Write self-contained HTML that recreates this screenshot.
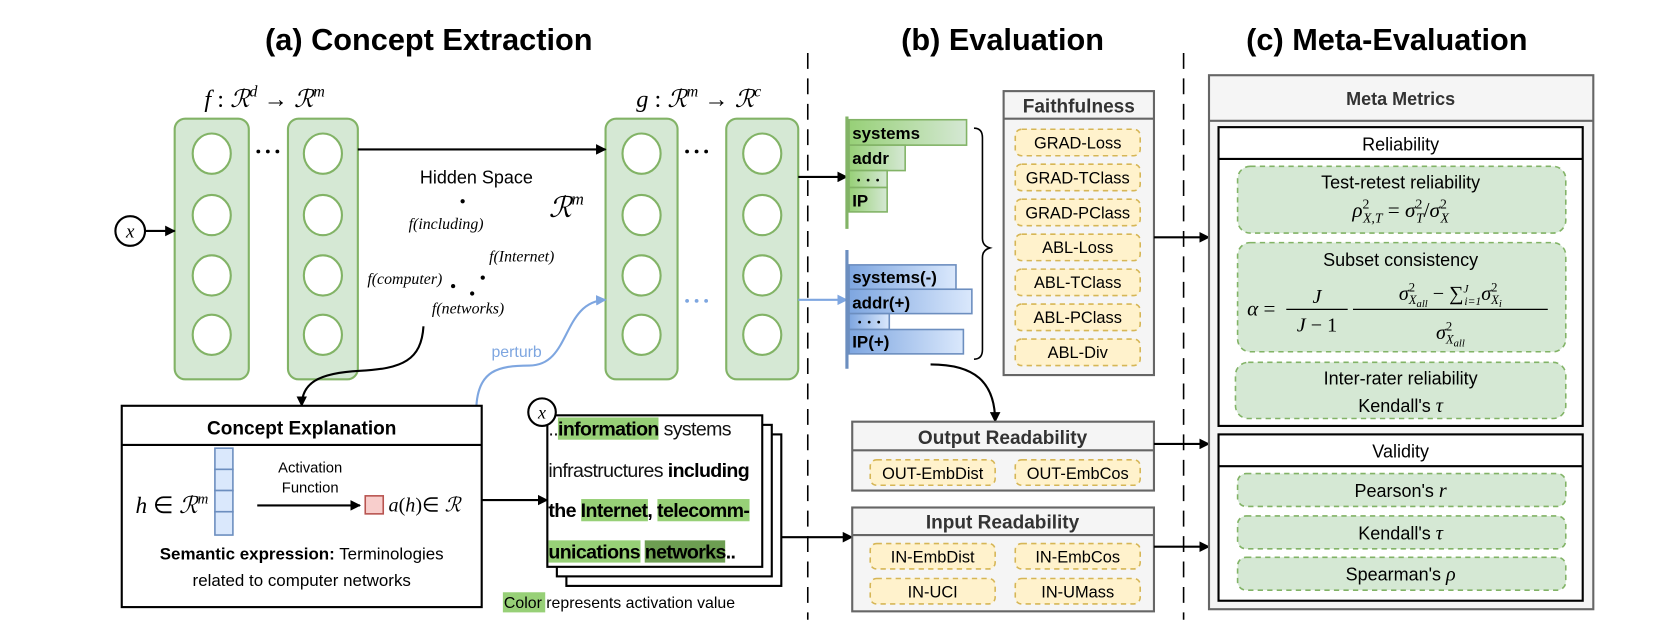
<!DOCTYPE html>
<html><head><meta charset="utf-8"><style>
html,body{margin:0;padding:0;background:#fff;}
svg{display:block;}
.t{font-family:"Liberation Sans",sans-serif;}
.m{font-family:"Liberation Serif",serif;font-style:italic;}
.doc{font-family:"Liberation Sans",sans-serif;font-size:18.5px;letter-spacing:-0.6px;color:#111;line-height:38.5px;white-space:nowrap;}
.doc b{font-weight:bold;color:#000;}
.hg{background:#97d077;}
.hd{background:#6d9e52;}
</style></head><body>
<svg width="1660" height="641" viewBox="0 0 1568 605" preserveAspectRatio="none" xmlns="http://www.w3.org/2000/svg">
<defs>
<marker id="ah" markerWidth="10" markerHeight="10" refX="9" refY="5" orient="auto" markerUnits="userSpaceOnUse"><path d="M0,0 L10,5 L0,10 z" fill="#000"/></marker>
<marker id="ahb" markerWidth="10" markerHeight="10" refX="9" refY="5" orient="auto" markerUnits="userSpaceOnUse"><path d="M0,0 L10,5 L0,10 z" fill="#7ea6e0"/></marker>
<linearGradient id="gg" x1="0" x2="1" y1="0" y2="0"><stop offset="0" stop-color="#97d077"/><stop offset="1" stop-color="#d5e8d4"/></linearGradient>
<linearGradient id="gb" x1="0" x2="1" y1="0" y2="0"><stop offset="0" stop-color="#7ea6e0"/><stop offset="1" stop-color="#dae8fc"/></linearGradient>
</defs>

<!-- titles -->
<g class="t" font-weight="bold" font-size="29" text-anchor="middle">
<text x="405" y="47">(a) Concept Extraction</text>
<text x="947" y="47">(b) Evaluation</text>
<text x="1310" y="47">(c) Meta-Evaluation</text>
</g>
<line x1="763" y1="50" x2="763" y2="585" stroke="#000" stroke-width="1.5" stroke-dasharray="15 9"/>
<line x1="1118" y1="50" x2="1118" y2="585" stroke="#000" stroke-width="1.5" stroke-dasharray="15 9"/>

<!-- network -->
<text class="m" x="250" y="101" font-size="23" text-anchor="middle">f <tspan font-style="normal">:</tspan> ℛ<tspan font-size="15" dy="-10">d</tspan><tspan dy="10" font-style="normal"> → </tspan>ℛ<tspan font-size="15" dy="-10">m</tspan></text>
<text class="m" x="660" y="101" font-size="23" text-anchor="middle">g <tspan font-style="normal">:</tspan> ℛ<tspan font-size="15" dy="-10">m</tspan><tspan dy="10" font-style="normal"> → </tspan>ℛ<tspan font-size="15" dy="-10">c</tspan></text>
<g fill="#d5e8d4" stroke="#82b366" stroke-width="2">
<rect x="165" y="112" width="70" height="246" rx="10"/>
<rect x="272" y="112" width="66" height="246" rx="10"/>
<rect x="572" y="112" width="68" height="246" rx="10"/>
<rect x="686" y="112" width="68" height="246" rx="10"/>
</g>
<g fill="#fff" stroke="#82b366" stroke-width="2">
<ellipse cx="200" cy="145" rx="18" ry="19"/><ellipse cx="200" cy="203" rx="18" ry="19"/><ellipse cx="200" cy="260" rx="18" ry="19"/><ellipse cx="200" cy="316" rx="18" ry="19"/>
<ellipse cx="305" cy="145" rx="18" ry="19"/><ellipse cx="305" cy="203" rx="18" ry="19"/><ellipse cx="305" cy="260" rx="18" ry="19"/><ellipse cx="305" cy="316" rx="18" ry="19"/>
<ellipse cx="606" cy="145" rx="18" ry="19"/><ellipse cx="606" cy="203" rx="18" ry="19"/><ellipse cx="606" cy="260" rx="18" ry="19"/><ellipse cx="606" cy="316" rx="18" ry="19"/>
<ellipse cx="720" cy="145" rx="18" ry="19"/><ellipse cx="720" cy="203" rx="18" ry="19"/><ellipse cx="720" cy="260" rx="18" ry="19"/><ellipse cx="720" cy="316" rx="18" ry="19"/>
</g>
<g fill="#000"><circle cx="244" cy="143" r="1.8"/><circle cx="253" cy="143" r="1.8"/><circle cx="262" cy="143" r="1.8"/>
<circle cx="649" cy="143" r="1.8"/><circle cx="658" cy="143" r="1.8"/><circle cx="667" cy="143" r="1.8"/></g>
<g fill="#7ea6e0"><circle cx="649" cy="284" r="1.8"/><circle cx="658" cy="284" r="1.8"/><circle cx="667" cy="284" r="1.8"/></g>
<circle cx="123" cy="218" r="14" fill="#fff" stroke="#000" stroke-width="2"/>
<text class="m" x="123" y="224" font-size="18" font-style="normal" text-anchor="middle">x</text>
<line x1="137" y1="218" x2="165" y2="218" stroke="#000" stroke-width="2" marker-end="url(#ah)"/>
<line x1="338" y1="141" x2="572" y2="141" stroke="#000" stroke-width="2" marker-end="url(#ah)"/>
<text class="t" x="450" y="173" font-size="17" text-anchor="middle">Hidden Space</text>
<text class="m" x="535" y="205" font-size="27" text-anchor="middle">ℛ<tspan font-size="16" dy="-12">m</tspan></text>
<g fill="#000"><circle cx="437" cy="190" r="2"/><circle cx="428" cy="270" r="2"/><circle cx="446" cy="277" r="2"/><circle cx="456" cy="262" r="2"/></g>
<g class="m" font-size="15" font-style="normal">
<text x="386" y="216"><tspan font-style="italic">f</tspan>(including)</text>
<text x="462" y="247"><tspan font-style="italic">f</tspan>(Internet)</text>
<text x="347" y="268"><tspan font-style="italic">f</tspan>(computer)</text>
<text x="408" y="296"><tspan font-style="italic">f</tspan>(networks)</text>
</g>
<path d="M400,308 C398,340 380,348 340,350 C300,352 285,362 285,383" fill="none" stroke="#000" stroke-width="2" marker-end="url(#ah)"/>
<path d="M450,383 C452,350 470,345 500,345 C540,345 530,285 572,283" fill="none" stroke="#7ea6e0" stroke-width="2" marker-end="url(#ahb)"/>
<text class="t" x="488" y="337" font-size="15" fill="#7ea6e0" text-anchor="middle">perturb</text>

<!-- concept explanation -->
<rect x="115" y="383" width="340" height="190" fill="#fff" stroke="#000" stroke-width="2"/>
<line x1="115" y1="420" x2="455" y2="420" stroke="#000" stroke-width="2"/>
<text class="t" x="285" y="410" font-size="18" font-weight="bold" text-anchor="middle">Concept Explanation</text>
<text class="m" x="128" y="484" font-size="22">h<tspan font-style="normal"> ∈ </tspan>ℛ<tspan font-size="14" dy="-9">m</tspan></text>
<g fill="#dae8fc" stroke="#6c8ebf" stroke-width="1.5">
<rect x="203" y="423" width="17" height="20"/><rect x="203" y="443" width="17" height="20"/><rect x="203" y="463" width="17" height="20"/><rect x="203" y="483" width="17" height="22"/>
</g>
<text class="t" x="293" y="446" font-size="14" text-anchor="middle">Activation</text>
<text class="t" x="293" y="465" font-size="14" text-anchor="middle">Function</text>
<line x1="243" y1="477" x2="340" y2="477" stroke="#000" stroke-width="2" marker-end="url(#ah)"/>
<rect x="345" y="468" width="17" height="17" fill="#f8cecc" stroke="#b85450" stroke-width="1.5"/>
<text class="m" x="367" y="483" font-size="19">a<tspan font-style="normal">(</tspan>h<tspan font-style="normal">)∈ </tspan>ℛ</text>
<text class="t" x="285" y="528" font-size="16" text-anchor="middle"><tspan font-weight="bold">Semantic expression:</tspan> Terminologies</text>
<text class="t" x="285" y="553" font-size="16" text-anchor="middle">related to computer networks</text>
<line x1="455" y1="472" x2="517" y2="472" stroke="#000" stroke-width="2" marker-end="url(#ah)"/>

<!-- doc stack -->
<rect x="535" y="410" width="203" height="143" fill="#fff" stroke="#000" stroke-width="2"/>
<rect x="526" y="401" width="203" height="143" fill="#fff" stroke="#000" stroke-width="2"/>
<rect x="517" y="392" width="203" height="143" fill="#fff" stroke="#000" stroke-width="2"/>
<foreignObject x="518" y="386" width="215" height="160"><div xmlns="http://www.w3.org/1999/xhtml" class="doc">..<b class="hg">information</b> systems<br/>infrastructures <b>including</b><br/><b>the <span class="hg">Internet</span>, <span class="hg">telecomm-</span></b><br/><b><span class="hg">unications</span> <span class="hd">networks</span>..</b></div></foreignObject>
<circle cx="512" cy="389" r="13" fill="#fff" stroke="#000" stroke-width="2"/>
<text class="m" x="512" y="395" font-size="17" font-style="normal" text-anchor="middle">x</text>
<rect x="475" y="559" width="40" height="19" fill="#97d077"/>
<text class="t" x="476" y="574" font-size="15">Color represents activation value</text>
<line x1="738" y1="507" x2="805" y2="507" stroke="#000" stroke-width="2" marker-end="url(#ah)"/>

<!-- evaluation bars -->
<line x1="754" y1="167" x2="800" y2="167" stroke="#000" stroke-width="2" marker-end="url(#ah)"/>
<line x1="754" y1="283" x2="800" y2="283" stroke="#7ea6e0" stroke-width="2" marker-end="url(#ahb)"/>
<g stroke="#82b366" stroke-width="1.5" fill="url(#gg)">
<rect x="802" y="113" width="111" height="24"/><rect x="802" y="137" width="53" height="24"/><rect x="802" y="161" width="36" height="16"/><rect x="802" y="177" width="36" height="23"/>
</g>
<line x1="800" y1="110" x2="800" y2="216" stroke="#82b366" stroke-width="3"/>
<g stroke="#6c8ebf" stroke-width="1.5" fill="url(#gb)">
<rect x="802" y="250" width="101" height="23"/><rect x="802" y="273" width="116" height="23"/><rect x="802" y="296" width="38" height="15"/><rect x="802" y="311" width="108" height="23"/>
</g>
<line x1="800" y1="236" x2="800" y2="348" stroke="#6c8ebf" stroke-width="3"/>
<g class="t" font-weight="bold" font-size="16">
<text x="805" y="131">systems</text><text x="805" y="155">addr</text><text x="805" y="195">IP</text>
<text x="805" y="267">systems(-)</text><text x="805" y="291">addr(+)</text><text x="805" y="328">IP(+)</text>
</g>
<g fill="#000"><circle cx="811" cy="170" r="1.3"/><circle cx="820" cy="170" r="1.3"/><circle cx="829" cy="170" r="1.3"/>
<circle cx="812" cy="304" r="1.3"/><circle cx="821" cy="304" r="1.3"/><circle cx="830" cy="304" r="1.3"/></g>
<path d="M920,121 Q928,121 928,130 L928,225 Q928,232 935,234 Q928,236 928,243 L928,330 Q928,339 920,339" fill="none" stroke="#000" stroke-width="1.5"/>

<!-- Faithfulness -->
<rect x="948" y="86" width="142" height="268" fill="#f5f5f5" stroke="#666" stroke-width="2"/>
<line x1="948" y1="112" x2="1090" y2="112" stroke="#666" stroke-width="2"/>
<text class="t" x="1019" y="106" font-size="18" font-weight="bold" fill="#333" text-anchor="middle">Faithfulness</text>
<g fill="#fff2cc" stroke="#d6b656" stroke-width="1.5" stroke-dasharray="5 4">
<rect x="959" y="122" width="118" height="25" rx="6"/><rect x="959" y="155" width="118" height="25" rx="6"/><rect x="959" y="188" width="118" height="25" rx="6"/><rect x="959" y="221" width="118" height="25" rx="6"/><rect x="959" y="254" width="118" height="25" rx="6"/><rect x="959" y="287" width="118" height="25" rx="6"/><rect x="959" y="320" width="118" height="25" rx="6"/>
</g>
<g class="t" font-size="15.5" text-anchor="middle">
<text x="1018" y="140">GRAD-Loss</text><text x="1018" y="173">GRAD-TClass</text><text x="1018" y="206">GRAD-PClass</text><text x="1018" y="239">ABL-Loss</text><text x="1018" y="272">ABL-TClass</text><text x="1018" y="305">ABL-PClass</text><text x="1018" y="338">ABL-Div</text>
</g>
<line x1="1090" y1="224" x2="1142" y2="224" stroke="#000" stroke-width="2" marker-end="url(#ah)"/>
<path d="M879,344 C920,344 940,360 940,398" fill="none" stroke="#000" stroke-width="2" marker-end="url(#ah)"/>

<!-- Output readability -->
<rect x="805" y="398" width="285" height="65" fill="#f5f5f5" stroke="#666" stroke-width="2"/>
<line x1="805" y1="425" x2="1090" y2="425" stroke="#666" stroke-width="2"/>
<text class="t" x="947" y="419" font-size="18" font-weight="bold" fill="#333" text-anchor="middle">Output Readability</text>
<g fill="#fff2cc" stroke="#d6b656" stroke-width="1.5" stroke-dasharray="5 4">
<rect x="822" y="434" width="118" height="24" rx="6"/><rect x="959" y="434" width="118" height="24" rx="6"/>
</g>
<line x1="1090" y1="419" x2="1142" y2="419" stroke="#000" stroke-width="2" marker-end="url(#ah)"/>

<!-- Input readability -->
<rect x="805" y="479" width="285" height="98" fill="#f5f5f5" stroke="#666" stroke-width="2"/>
<line x1="805" y1="505" x2="1090" y2="505" stroke="#666" stroke-width="2"/>
<text class="t" x="947" y="499" font-size="18" font-weight="bold" fill="#333" text-anchor="middle">Input Readability</text>
<g fill="#fff2cc" stroke="#d6b656" stroke-width="1.5" stroke-dasharray="5 4">
<rect x="822" y="513" width="118" height="24" rx="6"/><rect x="959" y="513" width="118" height="24" rx="6"/>
<rect x="822" y="546" width="118" height="24" rx="6"/><rect x="959" y="546" width="118" height="24" rx="6"/>
</g>
<g class="t" font-size="15.5" text-anchor="middle">
<text x="881" y="452">OUT-EmbDist</text><text x="1018" y="452">OUT-EmbCos</text>
<text x="881" y="531">IN-EmbDist</text><text x="1018" y="531">IN-EmbCos</text>
<text x="881" y="564">IN-UCI</text><text x="1018" y="564">IN-UMass</text>
</g>
<line x1="1090" y1="516" x2="1142" y2="516" stroke="#000" stroke-width="2" marker-end="url(#ah)"/>

<!-- Meta metrics -->
<rect x="1142" y="71" width="363" height="504" fill="#f5f5f5" stroke="#666" stroke-width="2"/>
<line x1="1142" y1="114" x2="1505" y2="114" stroke="#666" stroke-width="2"/>
<text class="t" x="1323" y="99" font-size="17" font-weight="bold" fill="#333" text-anchor="middle">Meta Metrics</text>
<rect x="1151" y="120" width="344" height="282" fill="#fff" stroke="#000" stroke-width="2"/>
<line x1="1151" y1="150" x2="1495" y2="150" stroke="#000" stroke-width="2"/>
<text class="t" x="1323" y="142" font-size="17" text-anchor="middle">Reliability</text>
<rect x="1151" y="410" width="344" height="157" fill="#fff" stroke="#000" stroke-width="2"/>
<line x1="1151" y1="440" x2="1495" y2="440" stroke="#000" stroke-width="2"/>
<text class="t" x="1323" y="432" font-size="17" text-anchor="middle">Validity</text>
<g fill="#d5e8d4" stroke="#82b366" stroke-width="1.5" stroke-dasharray="5 4">
<rect x="1169" y="157" width="310" height="63" rx="12"/>
<rect x="1169" y="229" width="310" height="103" rx="12"/>
<rect x="1167" y="342" width="312" height="53" rx="12"/>
<rect x="1169" y="447" width="310" height="31" rx="8"/>
<rect x="1169" y="487" width="310" height="31" rx="8"/>
<rect x="1169" y="526" width="310" height="31" rx="8"/>
</g>
<g class="t" font-size="17" text-anchor="middle">
<text x="1323" y="178">Test-retest reliability</text>
<text x="1323" y="251">Subset consistency</text>
<text x="1323" y="363">Inter-rater reliability</text>
<text x="1323" y="389">Kendall's <tspan class="m" font-size="19">τ</tspan></text>
<text x="1323" y="469">Pearson's <tspan class="m" font-size="19">r</tspan></text>
<text x="1323" y="509">Kendall's <tspan class="m" font-size="19">τ</tspan></text>
<text x="1323" y="548">Spearman's <tspan class="m" font-size="19">ρ</tspan></text>
</g>
<text class="m" x="1323" y="205" font-size="20" text-anchor="middle">ρ<tspan font-size="13" dy="-8" font-style="normal">2</tspan><tspan font-size="13" dx="-6" dy="13">X,T</tspan><tspan dy="-5" font-style="normal"> = </tspan>σ<tspan font-size="13" dy="-8" font-style="normal">2</tspan><tspan font-size="13" dx="-6" dy="13">T</tspan><tspan dy="-5" font-style="normal">/</tspan>σ<tspan font-size="13" dy="-8" font-style="normal">2</tspan><tspan font-size="13" dx="-6" dy="13">X</tspan></text>
<text class="m" x="1178" y="298" font-size="20">α <tspan font-style="normal">=</tspan></text>
<text class="m" x="1244" y="286" font-size="19" text-anchor="middle">J</text>
<line x1="1215" y1="292" x2="1273" y2="292" stroke="#000" stroke-width="1.2"/>
<text class="m" x="1244" y="313" font-size="19" text-anchor="middle">J <tspan font-style="normal">− 1</tspan></text>
<text class="m" x="1370" y="283" font-size="19" text-anchor="middle">σ<tspan font-size="12" dy="-8" font-style="normal">2</tspan><tspan font-size="12" dx="-6" dy="12">X</tspan><tspan font-size="10" dy="3">all</tspan><tspan font-style="normal" dy="-7"> − ∑</tspan><tspan font-size="11" dy="-7">J</tspan><tspan font-size="11" dx="-4" dy="12">i=1</tspan><tspan dy="-5">σ</tspan><tspan font-size="12" dy="-8" font-style="normal">2</tspan><tspan font-size="12" dx="-6" dy="12">X</tspan><tspan font-size="10" dy="3">i</tspan></text>
<line x1="1278" y1="292" x2="1462" y2="292" stroke="#000" stroke-width="1.2"/>
<text class="m" x="1370" y="320" font-size="19" text-anchor="middle">σ<tspan font-size="12" dy="-8" font-style="normal">2</tspan><tspan font-size="12" dx="-6" dy="12">X</tspan><tspan font-size="10" dy="3">all</tspan></text>
</svg>
</body></html>
